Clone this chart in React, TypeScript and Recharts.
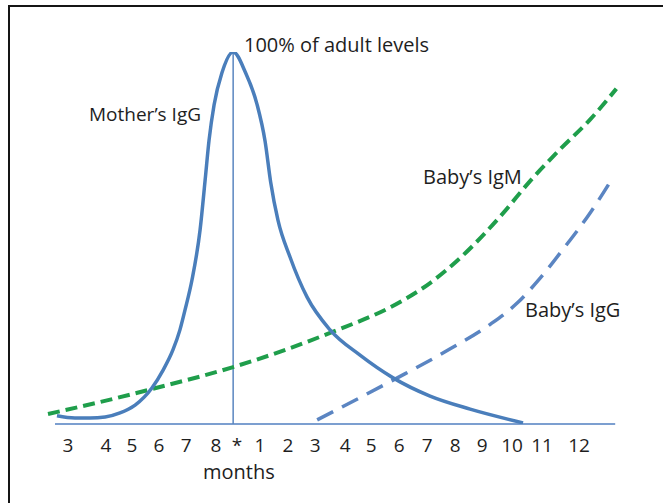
import React from 'react'
import { LineChart, Line, XAxis, YAxis, ReferenceLine } from 'recharts'

// x = position along the age axis (gestation months, birth, then months after birth)
// y = % of adult antibody level
const tickPositions = [2.46, 3.82, 4.75, 5.71, 6.68, 7.75, 8.5, 9.32, 10.32, 11.29, 12.36, 13.29, 14.29, 15.29, 16.29, 17.25, 18.32, 19.39, 20.71]
const tickLabels = ['3', '4', '5', '6', '7', '8', '*', '1', '2', '3', '4', '5', '6', '7', '8', '9', '10', '11', '12']

const birthPosition = 8.36

const motherIgG = [
  { t: 2.07, v: 2.2 },
  { t: 2.71, v: 1.6 },
  { t: 3.25, v: 1.6 },
  { t: 3.79, v: 1.9 },
  { t: 4.32, v: 3.0 },
  { t: 4.86, v: 5.1 },
  { t: 5.46, v: 9.7 },
  { t: 5.86, v: 14.5 },
  { t: 6.21, v: 19.9 },
  { t: 6.46, v: 25.3 },
  { t: 6.64, v: 30.6 },
  { t: 6.89, v: 38.7 },
  { t: 7.18, v: 52.2 },
  { t: 7.36, v: 65.6 },
  { t: 7.5, v: 76.3 },
  { t: 7.68, v: 85.8 },
  { t: 7.96, v: 94.4 },
  { t: 8.36, v: 100 },
  { t: 8.8, v: 94.5 },
  { t: 9.21, v: 86 },
  { t: 9.5, v: 76 },
  { t: 9.7, v: 65 },
  { t: 9.96, v: 54.8 },
  { t: 10.39, v: 44.9 },
  { t: 11.0, v: 34.1 },
  { t: 11.82, v: 25.3 },
  { t: 12.89, v: 18.5 },
  { t: 14.07, v: 12.4 },
  { t: 15.39, v: 7.5 },
  { t: 16.82, v: 4.0 },
  { t: 18.71, v: 0.3 },
]

const babyIgM = [
  { t: 1.75, v: 2.7 },
  { t: 3.61, v: 5.9 },
  { t: 5.46, v: 9.4 },
  { t: 8.36, v: 15.3 },
  { t: 11.82, v: 24.5 },
  { t: 14.32, v: 32.8 },
  { t: 15.39, v: 37.9 },
  { t: 16.46, v: 44.6 },
  { t: 18.0, v: 56.7 },
  { t: 18.96, v: 65.3 },
  { t: 20.04, v: 73.9 },
  { t: 21.11, v: 81.9 },
  { t: 22.04, v: 90.1 },
]

const babyIgG = [
  { t: 11.36, v: 1.1 },
  { t: 12.18, v: 4.3 },
  { t: 14.07, v: 11.8 },
  { t: 16.11, v: 20.2 },
  { t: 17.54, v: 26.8 },
  { t: 18.5, v: 32.5 },
  { t: 19.32, v: 39.2 },
  { t: 20.14, v: 47 },
  { t: 21.11, v: 56.8 },
  { t: 21.93, v: 66.4 },
]

const font = '"Open Sans", sans-serif'

const labelStyle: React.CSSProperties = {
  position: 'absolute',
  fontFamily: font,
  fontSize: 20,
  lineHeight: '20px',
  color: '#1e1e1e',
  whiteSpace: 'nowrap',
}

export default function App() {
  return (
    <div style={{ position: 'relative', width: 663, height: 503, background: '#fff', overflow: 'hidden' }}>
      <style>{`body { margin: 0; }`}</style>

      {/* frame: only top and left edges are visible in the picture */}
      <div
        style={{
          position: 'absolute',
          left: 8,
          top: 5,
          width: 663,
          height: 503,
          borderTop: '2px solid #151515',
          borderLeft: '2px solid #151515',
        }}
      />

      <LineChart width={663} height={503} margin={{ top: 52, right: 45, bottom: 49, left: 41 }}>
        <XAxis
          type="number"
          dataKey="t"
          domain={[1.5, 22.1]}
          ticks={tickPositions}
          interval={0}
          tickFormatter={(_v: number, i: number) => tickLabels[i]}
          axisLine={false}
          tickLine={false}
          tickSize={0}
          tickMargin={14.5}
          height={30}
          tick={{ fontSize: 19, fill: '#1e1e1e', fontFamily: font }}
        />
        <YAxis hide domain={[0, 100]} allowDataOverflow />

        <ReferenceLine segment={[{ x: 2, y: 0 }, { x: 22, y: 0 }]} stroke="#7c9fd0" strokeWidth={2} />
        <ReferenceLine x={birthPosition} stroke="#5a86c0" strokeWidth={1.5} />

        <Line
          data={babyIgM}
          dataKey="v"
          type="monotone"
          stroke="#1f9e4b"
          strokeWidth={4}
          strokeDasharray="12 6"
          dot={false}
          activeDot={false}
          isAnimationActive={false}
        />
        <Line
          data={babyIgG}
          dataKey="v"
          type="monotone"
          stroke="#5b85c2"
          strokeWidth={3.5}
          strokeDasharray="18 10"
          dot={false}
          activeDot={false}
          isAnimationActive={false}
        />
        <Line
          data={motherIgG}
          dataKey="v"
          type="monotone"
          stroke="#4a7ebb"
          strokeWidth={3.5}
          dot={false}
          activeDot={false}
          isAnimationActive={false}
        />
      </LineChart>

      <div style={{ ...labelStyle, left: 244, top: 35 }}>100% of adult levels</div>
      <div style={{ ...labelStyle, left: 89, top: 104, fontSize: 19 }}>Mother’s IgG</div>
      <div style={{ ...labelStyle, left: 423, top: 167 }}>Baby’s IgM</div>
      <div style={{ ...labelStyle, left: 525, top: 300 }}>Baby’s IgG</div>
      <div style={{ ...labelStyle, left: 203, top: 462 }}>months</div>
    </div>
  )
}
